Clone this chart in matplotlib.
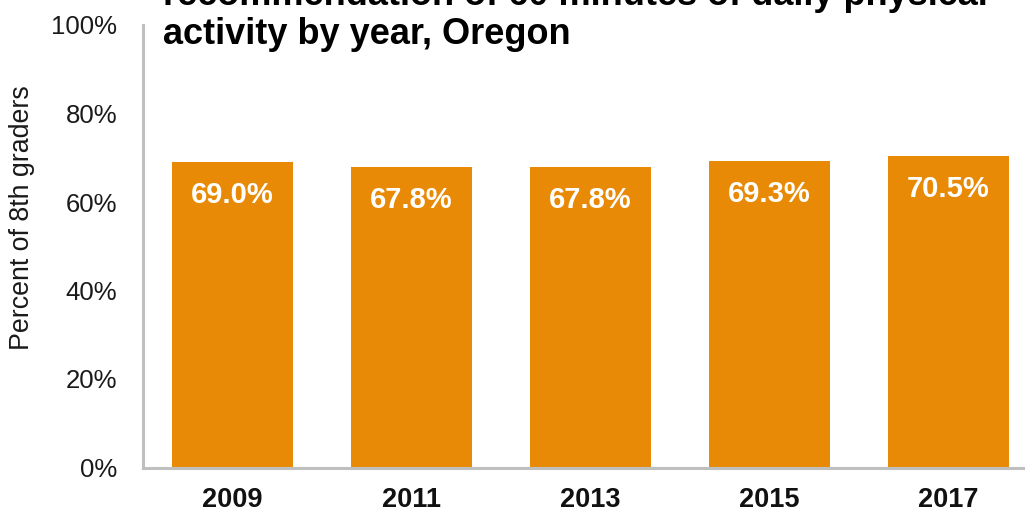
import matplotlib
matplotlib.use("Agg")
import matplotlib.pyplot as plt
from matplotlib.ticker import FuncFormatter

years = ["2009", "2011", "2013", "2015", "2017"]
values = [69.0, 67.8, 67.8, 69.3, 70.5]
value_labels = ["69.0%", "67.8%", "67.8%", "69.3%", "70.5%"]
y_ticks = [0, 20, 40, 60, 80, 100]
title_line1 = "recommendation of 60 minutes of daily physical"
title_line2 = "activity by year, Oregon"
y_label = "Percent of 8th graders"

plt.rcParams['font.family'] = ['Liberation Sans', 'DejaVu Sans']

W, H = 1025, 514
fig = plt.figure(figsize=(W / 100, H / 100), dpi=100)
fig.patch.set_facecolor('white')

ax_left = 143 / W
ax_right = 1038 / W
ax_bottom = (H - 467.5) / H
ax_top = (H - 25) / H
ax = fig.add_axes([ax_left, ax_bottom, ax_right - ax_left, ax_top - ax_bottom])

bar_color = '#E88A05'
x = list(range(len(years)))
ax.bar(x, values, width=0.676, color=bar_color, zorder=2)
ax.set_xlim(-0.5, len(years) - 0.5)
ax.set_ylim(0, 100)

for xi, v, lab in zip(x, values, value_labels):
    ax.annotate(lab, (xi, v), xytext=(0, -33 * 0.72), textcoords='offset points',
                ha='center', va='center', color='white', fontsize=21,
                fontweight='bold', zorder=3)

ax.set_xticks(x)
ax.set_xticklabels(years, fontsize=19.5, fontweight='bold', color='#111111')
ax.set_yticks(y_ticks)
ax.yaxis.set_major_formatter(FuncFormatter(lambda v, p: f"{int(v)}%"))
ax.tick_params(axis='y', length=0, pad=18.5, labelsize=18.5, labelcolor='#1a1a1a')
ax.tick_params(axis='x', length=0, pad=14, labelcolor='#111111')

for s in ['top', 'right']:
    ax.spines[s].set_visible(False)
for s in ['left', 'bottom']:
    ax.spines[s].set_color('#BFBFBF')
    ax.spines[s].set_linewidth(2.2)

fig.text(22 / W, (H - 218) / H, y_label, rotation=90, ha='center', va='center',
         fontsize=19.3, color='#1a1a1a')

tx = 163 / W
fig.text(tx, (H - 5) / H, title_line1, ha='left', va='baseline',
         fontsize=26, fontweight='bold', color='#000000')
fig.text(tx, (H - 44) / H, title_line2, ha='left', va='baseline',
         fontsize=26, fontweight='bold', color='#000000')

fig.savefig('out.png', dpi=100, facecolor='white')
